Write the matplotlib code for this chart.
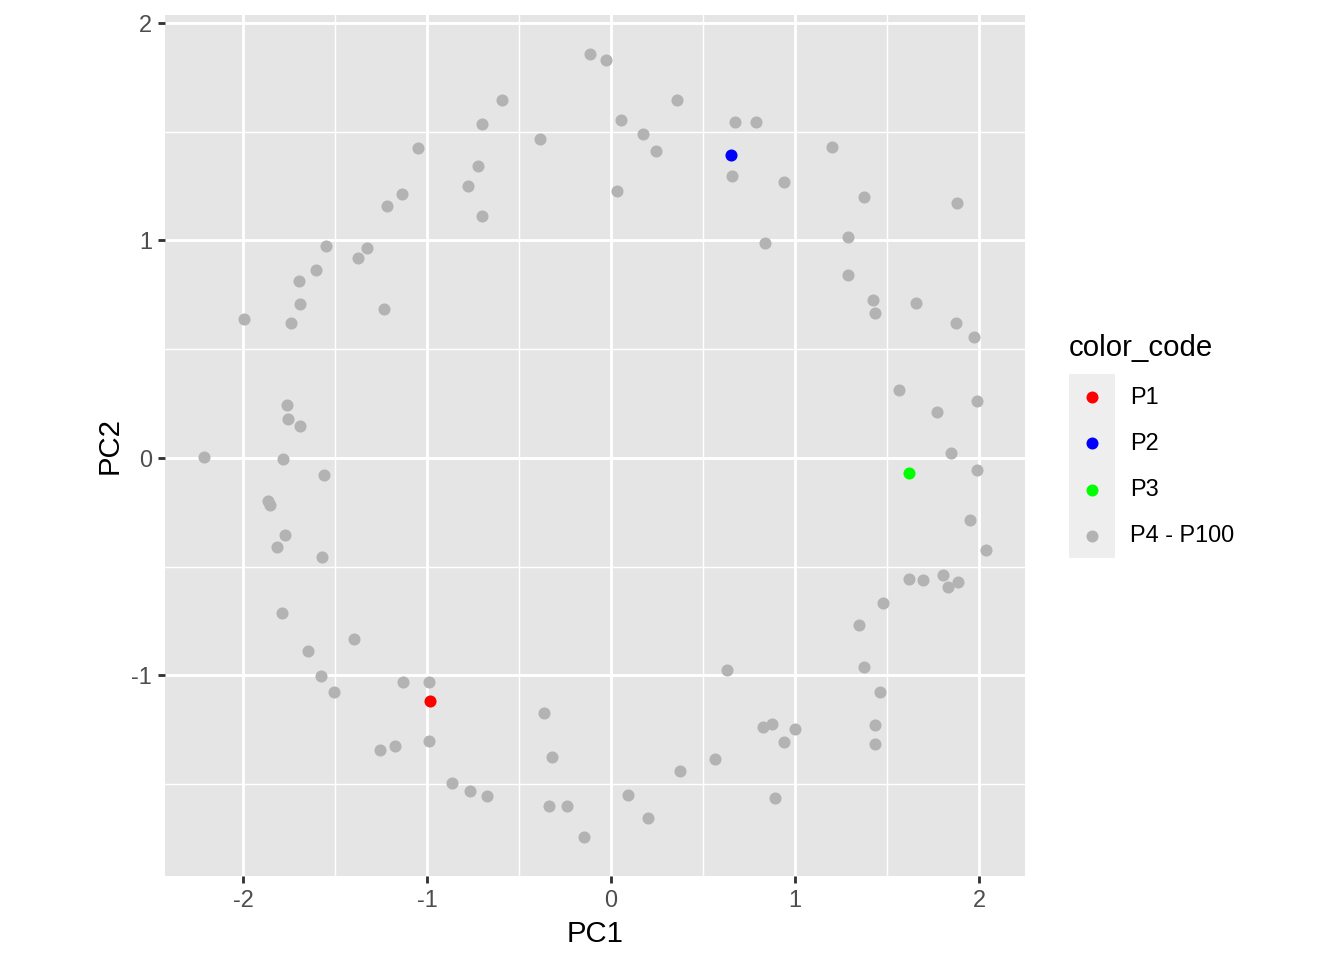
import matplotlib
matplotlib.use("Agg")
import matplotlib.pyplot as plt
from matplotlib.ticker import MultipleLocator
from matplotlib.lines import Line2D
from matplotlib.patches import Rectangle
import numpy as np

plt.rcParams['font.family'] = ['Liberation Sans', 'DejaVu Sans']
plt.rcParams['axes.unicode_minus'] = False

# categories and colours
categories = ["P1", "P2", "P3", "P4 - P100"]
cat_colors = ["#FF0000", "#0000FF", "#00FF00", "#B3B3B3"]

# highlighted points P1, P2, P3
pc1_highlight = [-0.984, 0.650, 1.622]
pc2_highlight = [-1.120, 1.393, -0.068]

# remaining points P4 - P100
pc1_rest = [
    -0.114, -0.025, -0.592, -0.704, -0.385, -1.049, -0.724, -0.780, -1.136, -1.216,
    -0.700, -1.549, -1.325, -1.377, -1.602, -1.695, -1.694, -1.994, -1.743, -1.236,
    0.358, 0.054, 0.673, 0.789, 0.174, 0.243, 1.202, 0.655, 0.939, 0.031,
    1.377, 1.882, 0.836, 1.289, 1.289, 1.426, 1.435, 1.656, 1.875, 1.971,
    -1.764, -1.755, -1.690, -2.213, -1.784, -1.561, -1.865, -1.855, -1.775, -1.817,
    -1.571, -1.788, -1.398, -1.648,
    1.567, 1.987, 1.772, 1.848, 1.992, 1.951, 2.038, 1.618, 1.698, 1.806,
    1.888, 1.830, 1.479, 1.346, 1.376,
    -1.576, -1.504, -1.132, -0.991, -0.365, -0.324, -1.254, -1.174, -0.991, -0.866,
    -0.769, -0.676, -0.338, -0.242, -0.150,
    0.632, 1.463, 0.824, 0.874, 1.001, 0.941, 1.437, 1.433, 0.565, 0.373,
    0.094, 0.199, 0.889,
]
pc2_rest = [
    1.856, 1.827, 1.644, 1.533, 1.467, 1.426, 1.343, 1.249, 1.214, 1.160,
    1.113, 0.972, 0.966, 0.920, 0.865, 0.811, 0.705, 0.638, 0.621, 0.686,
    1.644, 1.554, 1.542, 1.543, 1.487, 1.412, 1.427, 1.295, 1.267, 1.226,
    1.197, 1.171, 0.989, 1.015, 0.840, 0.727, 0.665, 0.713, 0.619, 0.557,
    0.244, 0.177, 0.146, 0.004, -0.004, -0.077, -0.199, -0.217, -0.353, -0.411,
    -0.457, -0.713, -0.835, -0.889,
    0.313, 0.261, 0.209, 0.024, -0.056, -0.287, -0.426, -0.557, -0.562, -0.539,
    -0.572, -0.594, -0.669, -0.767, -0.960,
    -1.004, -1.079, -1.030, -1.030, -1.174, -1.378, -1.344, -1.326, -1.301, -1.494,
    -1.534, -1.554, -1.602, -1.603, -1.743,
    -0.978, -1.078, -1.240, -1.226, -1.248, -1.306, -1.228, -1.317, -1.384, -1.439,
    -1.552, -1.655, -1.565,
]

W, H = 1344, 960
fig = plt.figure(figsize=(7, 5), dpi=192)
fig.patch.set_facecolor("white")

ax = fig.add_axes([165 / W, 1 - 876 / H, 860 / W, (876 - 15) / H])
ax.set_facecolor("#E5E5E5")

# points
for i in range(3):
    ax.scatter([pc1_highlight[i]], [pc2_highlight[i]], s=20.5, color=cat_colors[i],
               linewidths=0, zorder=3)
ax.scatter(pc1_rest, pc2_rest, s=20.5, color=cat_colors[3], linewidths=0, zorder=3)

# limits with ggplot-like 5% expansion
allx = np.array(pc1_highlight + pc1_rest)
ally = np.array(pc2_highlight + pc2_rest)
rx = allx.max() - allx.min()
ry = ally.max() - ally.min()
ax.set_xlim(allx.min() - 0.05 * rx, allx.max() + 0.05 * rx)
ax.set_ylim(ally.min() - 0.05 * ry, ally.max() + 0.05 * ry)

ax.xaxis.set_major_locator(MultipleLocator(1))
ax.yaxis.set_major_locator(MultipleLocator(1))
ax.xaxis.set_minor_locator(MultipleLocator(0.5))
ax.yaxis.set_minor_locator(MultipleLocator(0.5))

ax.grid(which="major", color="white", linewidth=1.07, zorder=1)
ax.grid(which="minor", color="white", linewidth=0.53, zorder=1)
ax.set_axisbelow(True)

for s in ax.spines.values():
    s.set_visible(False)

ax.tick_params(which="major", length=2.75, width=1.07, color="#333333",
               labelcolor="#4D4D4D", labelsize=8.8, pad=2.2)
ax.tick_params(which="minor", length=0)

ax.set_xlabel("PC1", fontsize=11, color="black", labelpad=2.75)
ax.set_ylabel("PC2", fontsize=11, color="black", labelpad=2.75)

# legend (manual, ggplot style)
fig.text(1069 / W, 1 - 348 / H, "color_code", fontsize=11, color="black",
         ha="left", va="center")
fig.add_artist(Rectangle((1069 / W, 1 - 558 / H), 46 / W, 184 / H,
                         transform=fig.transFigure, facecolor="#EEEEEE",
                         edgecolor="none"))
key_y = [397, 443, 489.5, 535.5]
for lab, col, yy in zip(categories, cat_colors, key_y):
    fig.add_artist(Line2D([1092 / W], [1 - yy / H], marker="o", markersize=4.5,
                          markeredgewidth=0, color=col, linestyle="none",
                          transform=fig.transFigure))
    fig.text(1130 / W, 1 - yy / H, lab, fontsize=8.8, color="black",
             ha="left", va="center")

fig.savefig("out.png", dpi=192)
